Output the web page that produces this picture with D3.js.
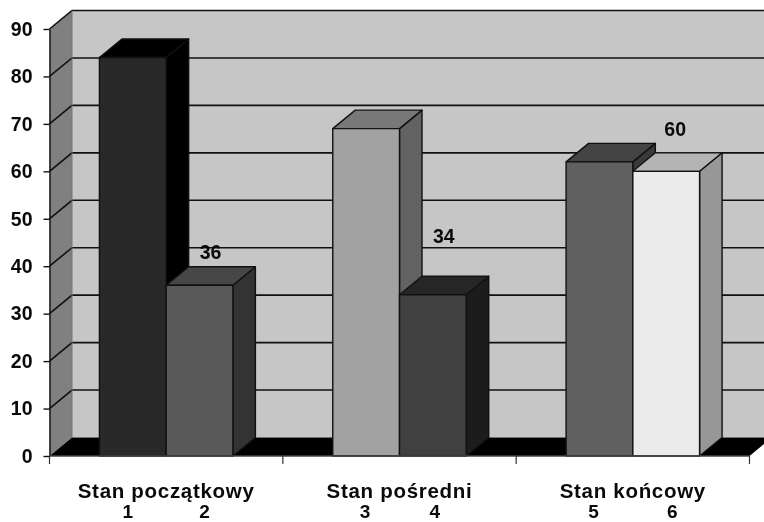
<!DOCTYPE html>
<html>
<head>
<meta charset="utf-8">
<script src="https://cdn.jsdelivr.net/npm/d3@7"></script>
<style>
    html, body { margin: 0; padding: 0; background: #fff; }
    svg { display: block; filter: blur(0.4px); }
    text { font-family: "Liberation Sans", Arial, sans-serif; font-weight: bold; fill: #0a0a0a; }
</style>
</head>
<body>
<script>
// Chart values
const categories = ["Stan początkowy", "Stan pośredni", "Stan końcowy"];
const barNames = ["1", "2", "3", "4", "5", "6"];
const barValues = [84, 36, 69, 34, 62, 60];
const valueLabels = [null, "36", null, "34", null, "60"];
const yTicks = [0, 10, 20, 30, 40, 50, 60, 70, 80, 90];

// Grey shades of each bar
const frontColors = ["#292929", "#595959", "#a2a2a2", "#404040", "#606060", "#ebebeb"];
const topColors = ["#000000", "#474747", "#787878", "#262626", "#444444", "#b4b4b4"];
const sideColors = ["#000000", "#333333", "#626262", "#1c1c1c", "#3a3a3a", "#979797"];

const width = 764, height = 522;
const depthX = 22.5, depthY = 18.5; // 3D offset of the back wall

const svg = d3.select("body").append("svg")
    .attr("width", width)
    .attr("height", height)
    .attr("viewBox", `0 0 ${width} ${height}`);

const xGroup = d3.scaleBand()
    .domain(categories)
    .range([49.5, 749.5])
    .paddingInner(0.428)
    .paddingOuter(0.214);

const xBar = d3.scaleBand()
    .domain([0, 1])
    .range([0, xGroup.bandwidth()]);

const yScale = d3.scaleLinear()
    .domain([0, 90])
    .range([456, 29]);

const barX = i => xGroup(categories[Math.floor(i / 2)]) + xBar(i % 2);
const poly = pts => pts.map(p => p.join(",")).join(" ");

const x0 = xGroup.range()[0], x1 = xGroup.range()[1];
const yBase = yScale(0), yTop = yScale(90);

// Back wall
svg.append("polygon")
    .attr("points", poly([[x0 + depthX, yTop - depthY], [x1 + depthX, yTop - depthY], [x1 + depthX, yBase - depthY], [x0 + depthX, yBase - depthY]]))
    .attr("fill", "#c6c6c6");

// Left wall
svg.append("polygon")
    .attr("points", poly([[x0, yTop], [x0 + depthX, yTop - depthY], [x0 + depthX, yBase - depthY], [x0, yBase]]))
    .attr("fill", "#808080");

// Floor
svg.append("polygon")
    .attr("points", poly([[x0, yBase], [x0 + depthX, yBase - depthY], [x1 + depthX, yBase - depthY], [x1, yBase]]))
    .attr("fill", "#000");

// Gridlines over both walls
svg.append("g").selectAll("polyline")
    .data(yTicks.filter(d => d > 0))
    .join("polyline")
    .attr("points", d => poly([[x0, yScale(d)], [x0 + depthX, yScale(d) - depthY], [x1 + depthX, yScale(d) - depthY]]))
    .attr("fill", "none")
    .attr("stroke", "#111")
    .attr("stroke-width", 1.6);

svg.append("line")
    .attr("x1", x0 + depthX).attr("x2", x0 + depthX)
    .attr("y1", yTop - depthY).attr("y2", yBase - depthY)
    .attr("stroke", "#777");

// Bars, left to right so each one covers the side of the previous
const bars = svg.append("g").selectAll("g")
    .data(barValues)
    .join("g")
    .attr("stroke", "#111")
    .attr("stroke-width", 1.4)
    .attr("stroke-linejoin", "round");

bars.append("polygon")
    .attr("fill", (d, i) => sideColors[i])
    .attr("points", (d, i) => {
        const r = barX(i) + xBar.bandwidth();
        return poly([[r, yScale(d)], [r + depthX, yScale(d) - depthY], [r + depthX, yBase - depthY], [r, yBase]]);
    });

bars.append("polygon")
    .attr("fill", (d, i) => topColors[i])
    .attr("points", (d, i) => {
        const l = barX(i), r = l + xBar.bandwidth();
        return poly([[l, yScale(d)], [l + depthX, yScale(d) - depthY], [r + depthX, yScale(d) - depthY], [r, yScale(d)]]);
    });

bars.append("rect")
    .attr("fill", (d, i) => frontColors[i])
    .attr("x", (d, i) => barX(i))
    .attr("y", d => yScale(d))
    .attr("width", xBar.bandwidth())
    .attr("height", d => yBase - yScale(d));

// Value labels sit at different spots above their bars
const labelLift = [0, 33, 0, 59, 0, 42];
const labelShift = [0, 11, 0, 11, 0, 9];
svg.append("g").selectAll("text")
    .data(barValues)
    .join("text")
    .attr("x", (d, i) => barX(i) + xBar.bandwidth() / 2 + labelShift[i])
    .attr("y", (d, i) => yScale(d) - labelLift[i] + 7)
    .attr("text-anchor", "middle")
    .attr("font-size", 19.5)
    .text((d, i) => valueLabels[i]);

// Y axis
const yAxis = svg.append("g")
    .attr("transform", `translate(${x0},0)`)
    .call(d3.axisLeft(yScale).tickValues(yTicks).tickSize(6).tickPadding(11).tickSizeOuter(0));
yAxis.selectAll("text").attr("font-size", 19.5).style("font-family", "inherit");
yAxis.selectAll("path, line").attr("stroke", "#111").attr("stroke-width", 1.4);

// X axis with ticks between the groups
const xTicks = d3.range(categories.length + 1).map(i => x0 + i * xGroup.step());
svg.append("line")
    .attr("x1", x0).attr("x2", x1)
    .attr("y1", yBase).attr("y2", yBase)
    .attr("stroke", "#444").attr("stroke-width", 1.4);
svg.append("g").selectAll("line")
    .data(xTicks)
    .join("line")
    .attr("x1", d => d).attr("x2", d => d)
    .attr("y1", yBase).attr("y2", yBase + 8)
    .attr("stroke", "#333").attr("stroke-width", 1.2);

// Category names
svg.append("g").selectAll("text")
    .data(categories)
    .join("text")
    .attr("x", d => xGroup(d) + xGroup.bandwidth() / 2)
    .attr("y", 497.5)
    .attr("text-anchor", "middle")
    .attr("font-size", 20.5)
    .attr("letter-spacing", 0.7)
    .text(d => d);

// Bar numbers under the names
const numberShift = [-5, 5, -1, 2, -6, 6];
svg.append("g").selectAll("text")
    .data(barNames)
    .join("text")
    .attr("x", (d, i) => barX(i) + xBar.bandwidth() / 2 + numberShift[i])
    .attr("y", 517.5)
    .attr("text-anchor", "middle")
    .attr("font-size", 19)
    .text(d => d);
</script>
</body>
</html>
